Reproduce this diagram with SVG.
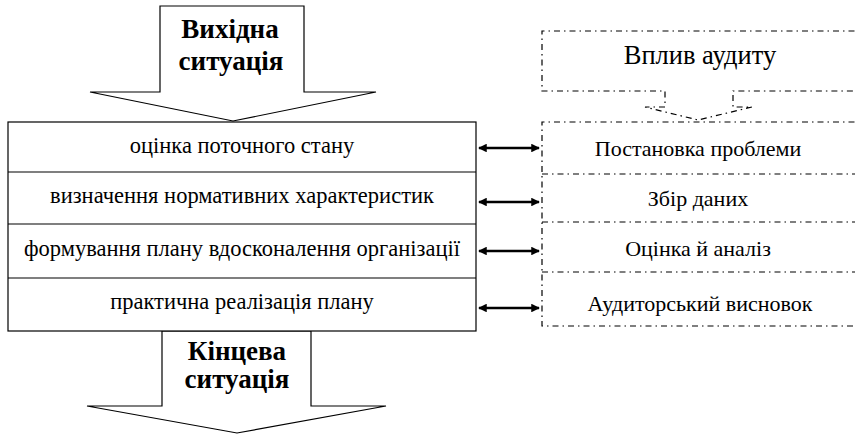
<svg xmlns="http://www.w3.org/2000/svg" width="855" height="435" viewBox="0 0 855 435">
<style>
.solid{fill:#fff;stroke:#000;stroke-width:1.2}
.dash{fill:none;stroke:#000;stroke-width:1.2;stroke-dasharray:6 4 1.5 4}
text{font-family:'Liberation Serif','DejaVu Serif','Times New Roman',serif;fill:#000;text-anchor:middle}
.t{font-size:22.5px}
.tr{font-size:22px}
.b{font-size:27px;font-weight:bold}
.big{font-size:26.5px}
.conn{stroke:#000;stroke-width:2.4;fill:none;marker-start:url(#ah);marker-end:url(#ah)}
</style>
<defs>
<marker id="ah" viewBox="0 0 10 10" refX="9" refY="5" markerWidth="4.5" markerHeight="3.6" orient="auto-start-reverse" markerUnits="strokeWidth">
<path d="M0,0 L10,5 L0,10 z" fill="#000"/>
</marker>
</defs>
<g id="start-arrow">
<polygon class="solid" points="160,6 304,6 304,92 376,92 233,121 90,92 160,92"/>
<text class="b" x="230" y="38">Вихідна</text>
<text class="b" x="231" y="70">ситуація</text>
</g>
<g id="end-arrow">
<polygon class="solid" points="162,331 311,331 311,406 386,406 237,433 87,406 162,406"/>
<text class="b" x="237" y="360">Кінцева</text>
<text class="b" x="237" y="388">ситуація</text>
</g>
<g id="stages">
<rect class="solid" x="8" y="122" width="468" height="209"/>
<line class="solid" x1="8" y1="172" x2="476" y2="172"/>
<line class="solid" x1="8" y1="224" x2="476" y2="224"/>
<line class="solid" x1="8" y1="278" x2="476" y2="278"/>
<text class="t" x="242" y="153">оцінка поточного стану</text>
<text class="t" x="242" y="203">визначення нормативних характеристик</text>
<text class="t" x="242" y="256">формування плану вдосконалення організації</text>
<text class="t" x="242" y="309">практична реалізація плану</text>
</g>
<g id="audit-impact">
<path class="dash" d="M870,31 H542 V91 H665 V107 H645 L698,120 L752,107 H733 V91 H870"/>
<text class="big" x="700" y="64">Вплив аудиту</text>
</g>
<g id="audit-steps">
<path class="dash" d="M870,122 H542 V326 H870 M542,174 H870 M542,222 H870 M542,272 H870"/>
<text class="tr" x="698" y="156">Постановка проблеми</text>
<text class="tr" x="698" y="206">Збір даних</text>
<text class="tr" x="698" y="256">Оцінка й аналіз</text>
<text class="tr" x="700" y="311">Аудиторський висновок</text>
</g>
<g id="connectors">
<line class="conn" x1="479" y1="148" x2="539" y2="148"/>
<line class="conn" x1="479" y1="202" x2="539" y2="202"/>
<line class="conn" x1="479" y1="251" x2="539" y2="251"/>
<line class="conn" x1="479" y1="308" x2="539" y2="308"/>
</g>
</svg>
